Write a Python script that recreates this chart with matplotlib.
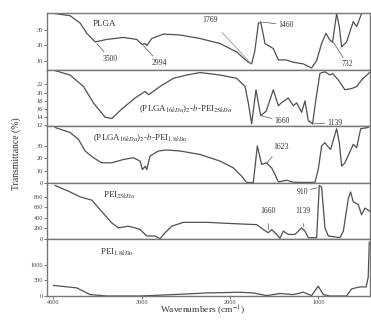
import numpy as np
import matplotlib
matplotlib.use('Agg')
import matplotlib.pyplot as plt

plt.rcParams['font.family'] = ['Liberation Serif', 'DejaVu Serif']
plt.rcParams['mathtext.fontset'] = 'stix'

'''
--------------------------> DATA (read off the reference)
'''

# PLGA
wn1 = [3977, 3808, 3695, 3619, 3525, 3393, 3205, 3054, 2997, 2960, 2940, 2885, 2753, 2565, 2339, 2113, 1925,
       1793, 1755, 1720, 1678, 1651, 1604, 1510, 1453, 1370, 1284, 1171, 1077, 1020, 964, 915, 870, 840, 794,
       764, 737, 681, 606, 568, 512, 437]
t1 = [40.7, 39.3, 34.5, 27.8, 22.2, 23.8, 25.1, 23.8, 20.5, 21.1, 19.8, 24.4, 27.3, 26.7, 24.4, 21.1, 15.6,
      8.9, 7.8, 16, 34.5, 34.8, 21.1, 17.8, 10.4, 10.4, 8.9, 7.8, 5.1, 10, 21.1, 27.8, 23.3, 22, 40.7,
      32.2, 18.9, 22.2, 35.5, 32.2, 40.7, 41]

# (PLGA16kDa)2-b-PEI25kDa
wn2 = [3997, 3808, 3657, 3544, 3412, 3337, 3224, 3073, 2960, 2920, 2791, 2640, 2490, 2339, 2113, 1925, 1830,
       1793, 1755, 1706, 1653, 1590, 1510, 1453, 1415, 1341, 1284, 1246, 1190, 1152, 1115, 1066, 1028, 983,
       926, 870, 840, 775, 700, 625, 568, 512, 418]
t2 = [25.5, 24.3, 21.5, 17.5, 14.0, 13.7, 16.0, 18.7, 20.3, 19.5, 21.5, 23.5, 24.3, 24.9, 24.3, 23.5, 21.5,
      17.5, 12.4, 20.7, 14.4, 15.5, 20.7, 16.8, 17.6, 18.7, 16.8, 17.5, 15.2, 18.0, 13.2, 12.4, 18.4, 24.7,
      25.1, 24.3, 24.7, 23.1, 20.7, 21.0, 21.5, 23.1, 25.0]

# (PLGA16kDa)2-b-PEI1.8kDa
wn3 = [3977, 3808, 3714, 3638, 3544, 3450, 3337, 3205, 3092, 3017, 2991, 2960, 2941, 2904, 2810, 2715, 2565,
       2339, 2113, 1962, 1868, 1811, 1736, 1691, 1642, 1590, 1529, 1491, 1453, 1359, 1284, 1133, 1039, 1002,
       964, 926, 900, 862, 840, 794, 764, 737, 700, 606, 568, 522, 437]
t3 = [45, 40.9, 35.4, 25.9, 20.4, 16.3, 16.3, 19.0, 20.4, 17.7, 10.8, 13.5, 10.8, 21.8, 25.9, 26.7, 25.9,
      23.1, 17.7, 12.2, 5.4, 0.3, 0.3, 30, 15, 16.3, 12.2, 6.8, 0.8, 2.1, 0.5, 0.3, 0.5, 10.8,
      30, 32.7, 30, 27.2, 32.7, 44, 32.7, 13.6, 16.3, 31.3, 28.6, 44, 45]

# PEI25kDa
wn4 = [3977, 3808, 3695, 3563, 3450, 3337, 3262, 3149, 3073, 3017, 2941, 2847, 2791, 2734, 2659, 2527, 2263,
       1962, 1698, 1623, 1567, 1529, 1472, 1435, 1397, 1341, 1265, 1190, 1152, 1115, 1020, 990, 964, 926,
       888, 756, 718, 662, 636, 606, 550, 512, 475, 418]
t4 = [1010, 887, 794, 731, 515, 298, 205, 236, 205, 173, 50, 50, 0, 112, 236, 310, 310,
      285, 266, 173, 112, 173, 80, 6, 143, 80, 80, 205, 143, 19, 19, 1010, 980, 205,
      50, 19, 143, 763, 887, 700, 650, 452, 580, 520]

# PEI1.8kDa
wn5 = [3997, 3733, 3582, 3393, 3017, 2640, 2263, 1887, 1736, 1585, 1435, 1284, 1171, 1077, 1002, 945, 870,
       681, 625, 530, 460, 437, 425]
t5 = [336, 258, 45, 0, 0, 45, 97, 120, 97, 13, 80, 45, 120, 13, 313, 45, 0,
      0, 226, 290, 290, 600, 1710]

names = [r'PLGA', r'(PLGA$_{16kDa}$)$_2$-$b$-PEI$_{25kDa}$', r'(PLGA$_{16kDa}$)$_2$-$b$-PEI$_{1.8kDa}$',
         r'PEI$_{25kDa}$', r'PEI$_{1.8kDa}$']
ylims = [(4, 41), (11.8, 25.6), (0, 46), (-15, 1060), (0, 1800)]
yticks = [[10, 20, 30], [12, 14, 16, 18, 20, 22], [0, 10, 20, 30], [0, 200, 400, 600, 800], [0, 500, 1000]]
name_pos = [(3550, 34), (3030, 16), (3550, 36.5), (3440, 818), (3470, 1380)]

'''
--------------------------> MAKE PLOT
'''

fig, axes = plt.subplots(5, 1, sharex=True, figsize=(3.71, 3.20), dpi=100)
fig.subplots_adjust(left=0.127, right=0.997, top=0.959, bottom=0.075, hspace=0)

lc = '#505050'
data = [(wn1, t1), (wn2, t2), (wn3, t3), (wn4, t4), (wn5, t5)]
for i, ax in enumerate(axes):
    ax.plot(data[i][0], data[i][1], color=lc, lw=0.9)
    ax.set_ylim(ylims[i])
    ax.set_yticks(yticks[i])
    ax.tick_params(axis='y', labelsize=4.5, length=2, width=0.5, pad=1, colors='#444444')
    ax.tick_params(axis='x', labelsize=4.5, length=2, width=0.5, pad=1, colors='#444444')
    for s in ax.spines.values():
        s.set_color('#777777')
        s.set_linewidth(1.0)
    ax.text(name_pos[i][0], name_pos[i][1], names[i], fontsize=6.5, color='#333333', ha='left', va='center')

axes[0].set_xlim(4068, 418)
axes[-1].set_xticks([4000, 3000, 2000, 1000])

#peak labels
ak = dict(fontsize=5.5, color='#333333', va='center', annotation_clip=False)
lp = dict(arrowstyle='-', color='#555555', lw=0.5, shrinkA=0, shrinkB=0)
axes[0].annotate('3500', xy=(3506, 21), xytext=(3440, 11.3), arrowprops=lp, ha='left', **ak)
axes[0].annotate('2994', xy=(2983, 20), xytext=(2890, 8.5), arrowprops=lp, ha='left', **ak)
axes[0].annotate('1769', xy=(1762, 8), xytext=(2310, 36.7),
                 arrowprops=dict(arrowstyle='-', color='#8a9cc0', lw=0.6, shrinkA=6, shrinkB=0), ha='left', **ak)
axes[0].annotate('1460', xy=(1660, 35.3), xytext=(1450, 33.3), arrowprops=lp, ha='left', **ak)
axes[0].annotate('732', xy=(833, 22), xytext=(735, 7.5), arrowprops=lp, ha='left', **ak)

axes[1].annotate('1660', xy=(1653, 14.4), xytext=(1495, 13), arrowprops=lp, ha='left', **ak)
axes[1].annotate('1139', xy=(1066, 12.4), xytext=(900, 12.5), arrowprops=lp, ha='left', **ak)

axes[2].annotate('1623', xy=(1592, 15.4), xytext=(1515, 29.5),
                 arrowprops=dict(arrowstyle='-', color='#555555', lw=0.5, shrinkA=3, shrinkB=0), ha='left', **ak)

axes[3].annotate('910', xy=(1016, 967), xytext=(1120, 890), arrowprops=lp, ha='right', **ak)
axes[3].annotate('1660', xy=(1567, 173), xytext=(1567, 520),
                 arrowprops=dict(arrowstyle='-', color='#555555', lw=0.5, shrinkA=4, shrinkB=0), ha='center', **ak)
axes[3].annotate('1139', xy=(1171, 230), xytext=(1171, 520),
                 arrowprops=dict(arrowstyle='-', color='#555555', lw=0.5, shrinkA=4, shrinkB=0), ha='center', **ak)

fig.text(0.045, 0.52, 'Transmittance (%)', rotation=90, fontsize=7, color='#333333', ha='center', va='center')
fig.text(0.545, 0.008, 'Wavenumbers (cm$^{-1}$)', fontsize=6.8, color='#333333', ha='center', va='bottom')

plt.savefig('out.png', dpi=100)
